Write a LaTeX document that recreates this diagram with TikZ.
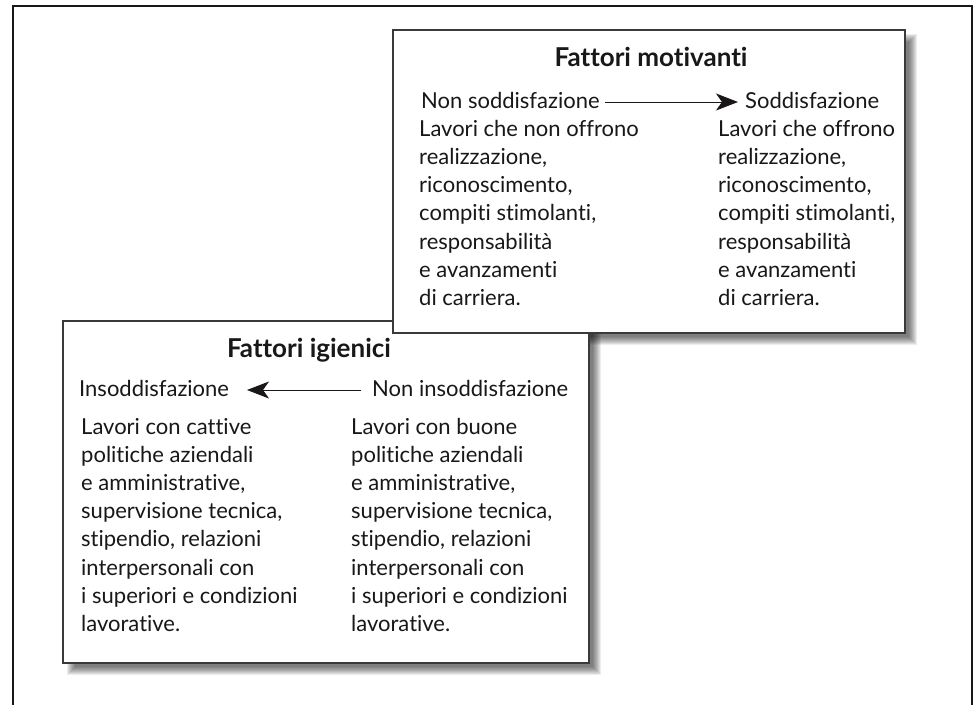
\documentclass[tikz,border=0pt]{standalone}
\usepackage{fontspec}
\setmainfont{Lato}[Ligatures=NoCommon]
\usetikzlibrary{arrows.meta}
\definecolor{ink}{HTML}{1A1718}
\definecolor{edge}{HTML}{3A3A3A}
\newcommand{\softshadow}[4]{%
  \foreach \k in {-4,...,4}{%
    \fill[black, opacity=0.075] (#1+8-\k,#2+8-\k) rectangle (#3+8+\k,#4+8+\k);}}
\begin{document}
\begin{tikzpicture}[x=1pt,y=-1pt,
  txt/.style={inner sep=0pt, anchor=base west, font=\fontsize{22}{24}\selectfont, text=ink},
  ttl/.style={inner sep=0pt, anchor=base, font=\fontsize{26}{28}\selectfont\bfseries, text=ink},
  boxframe/.style={draw=edge, line width=1.5pt, fill=white},
  arr/.style={draw=ink, line width=1pt, -{Stealth[length=22pt,width=17pt,inset=6pt]}}
]
\useasboundingbox (0,0) rectangle (976,704);
\clip (0,0) rectangle (976,704);
% outer frame
\draw[ink, line width=1.6pt] (13,720) -- (13,6) -- (972,6) -- (972,720);
% shadows
\softshadow{393}{30}{905}{333}
\softshadow{63}{321}{589}{663}
% bottom box
\draw[boxframe] (63,321) rectangle (589,663);
\node[ttl] (itit) at (309,357) {Fattori igienici};
\node[txt] (ihl) at (79,396) {Insoddisfazione};
\node[txt] (ihr) at (372,396) {Non insoddisfazione};
\coordinate (iarrS) at (361,390);
\coordinate (iarrE) at (247,390);
\draw[arr] (iarrS) -- (iarrE);
\foreach \t [count=\i from 0] in {Lavori con cattive, politiche aziendali, {e amministrative,}, {supervisione tecnica,}, {stipendio, relazioni}, interpersonali con, i superiori e condizioni, lavorative.}{
  \node[txt] (iL\i) at (81,434+28.2*\i) {\t};}
\foreach \t [count=\i from 0] in {Lavori con buone, politiche aziendali, {e amministrative,}, {supervisione tecnica,}, {stipendio, relazioni}, interpersonali con, i superiori e condizioni, lavorative.}{
  \node[txt] (iR\i) at (351,434+28.2*\i) {\t};}
% top box
\draw[boxframe] (393,30) rectangle (905,333);
\node[ttl] (mtit) at (651,66) {Fattori motivanti};
\node[txt] (mhl) at (421,108) {Non soddisfazione};
\node[txt] (mhr) at (745,108) {Soddisfazione};
\coordinate (marrS) at (605,102);
\coordinate (marrE) at (738,102);
\draw[arr] (marrS) -- (marrE);
\foreach \t [count=\i from 1] in {Lavori che non offrono, {realizzazione,}, {riconoscimento,}, {compiti stimolanti,}, responsabilità, e avanzamenti, di carriera.}{
  \node[txt] (mL\i) at (419,108+28.2*\i) {\t};}
\foreach \t [count=\i from 1] in {Lavori che offrono, {realizzazione,}, {riconoscimento,}, {compiti stimolanti,}, responsabilità, e avanzamenti, di carriera.}{
  \node[txt] (mR\i) at (718,108+28.2*\i) {\t};}
\end{tikzpicture}
\end{document}
